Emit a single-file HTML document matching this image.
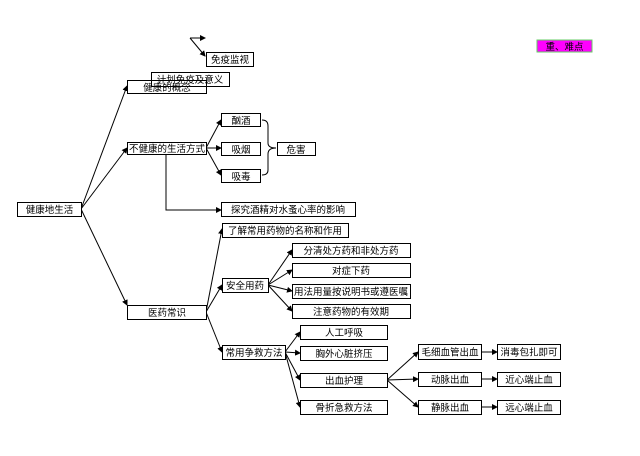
<!DOCTYPE html>
<html><head><meta charset="utf-8"><style>
html,body{margin:0;padding:0;background:#fff;width:640px;height:456px;overflow:hidden}
text{font-family:"Liberation Sans","Noto Sans CJK SC",sans-serif;font-size:9.5px;fill:#000}
rect{fill:#fff;stroke:#000;stroke-width:1}
line,path,polyline{stroke:#000;stroke-width:1;fill:none}
</style></head><body>
<svg width="640" height="456" xmlns="http://www.w3.org/2000/svg">
<defs><marker id="a" markerWidth="6" markerHeight="6" refX="5" refY="3" orient="auto" markerUnits="userSpaceOnUse"><path d="M0,0 L6,3 L0,6 z" style="fill:#000;stroke:none"/></marker></defs>
<g marker-end="url(#a)">
<line x1="81" y1="209" x2="127" y2="86"/>
<line x1="81" y1="209" x2="127" y2="148"/>
<line x1="81" y1="209" x2="127" y2="305"/>
<polyline points="190,38 205,38"/>
<line x1="190" y1="38" x2="205" y2="56"/>
<line x1="206" y1="148" x2="221" y2="120"/>
<line x1="206" y1="148" x2="221" y2="148"/>
<line x1="206" y1="148" x2="221" y2="175"/>
<polyline points="166,154 166,210 221,210"/>
<line x1="206" y1="312" x2="222" y2="229"/>
<line x1="206" y1="312" x2="222" y2="285"/>
<line x1="206" y1="312" x2="222" y2="352"/>
<line x1="268" y1="285" x2="292" y2="250"/>
<line x1="268" y1="285" x2="292" y2="270"/>
<line x1="268" y1="285" x2="292" y2="291"/>
<line x1="268" y1="285" x2="292" y2="311"/>
<line x1="285" y1="352" x2="300" y2="332"/>
<line x1="285" y1="352" x2="300" y2="353"/>
<line x1="285" y1="352" x2="300" y2="380"/>
<line x1="285" y1="352" x2="300" y2="407"/>
<line x1="387" y1="380" x2="418" y2="352"/>
<line x1="387" y1="380" x2="418" y2="379"/>
<line x1="387" y1="380" x2="418" y2="407"/>
<line x1="481" y1="352" x2="497" y2="352"/>
<line x1="481" y1="379" x2="497" y2="379"/>
<line x1="481" y1="407" x2="497" y2="407"/>
</g>
<path d="M262,120 Q268,120 268,126 L268,143 Q268,148 276,148 Q268,148 268,154 L268,170 Q268,175 262,175"/>
<rect x="537" y="40" width="55" height="12" style="fill:#f0f;stroke:#6c6"/>
<text x="564.5" y="50" text-anchor="middle">重、难点</text>
<g>
<rect x="17.5" y="202.5" width="64" height="14"/><text x="49.5" y="213" text-anchor="middle">健康地生活</text>
<rect x="151.5" y="72.5" width="78" height="14" style="fill:none"/><text x="190" y="83" text-anchor="middle">计划免疫及意义</text>
<rect x="127.5" y="80.5" width="79" height="13" style="fill:none"/><text x="167" y="91" text-anchor="middle">健康的概念</text>
<rect x="206.5" y="52.5" width="47" height="14"/><text x="230" y="63" text-anchor="middle">免疫监视</text>
<rect x="127.5" y="142.5" width="79" height="12"/><text x="167" y="152" text-anchor="middle">不健康的生活方式</text>
<rect x="221.5" y="113.5" width="39" height="13"/><text x="241" y="124" text-anchor="middle">酗酒</text>
<rect x="221.5" y="142.5" width="39" height="13"/><text x="241" y="153" text-anchor="middle">吸烟</text>
<rect x="221.5" y="169.5" width="39" height="13"/><text x="241" y="180" text-anchor="middle">吸毒</text>
<rect x="277.5" y="142.5" width="38" height="13"/><text x="296" y="153" text-anchor="middle">危害</text>
<rect x="221.5" y="202.5" width="134" height="14"/><text x="288" y="213" text-anchor="middle">探究酒精对水蚤心率的影响</text>
<rect x="222.5" y="223.5" width="126" height="14"/><text x="285" y="234" text-anchor="middle">了解常用药物的名称和作用</text>
<rect x="127.5" y="305.5" width="79" height="14"/><text x="167" y="316" text-anchor="middle">医药常识</text>
<rect x="222.5" y="278.5" width="46" height="14"/><text x="245" y="289" text-anchor="middle">安全用药</text>
<rect x="292.5" y="243.5" width="118" height="14"/><text x="351" y="254" text-anchor="middle">分清处方药和非处方药</text>
<rect x="292.5" y="263.5" width="118" height="14"/><text x="351" y="274" text-anchor="middle">对症下药</text>
<rect x="292.5" y="284.5" width="118" height="14"/><text x="351" y="295" text-anchor="middle">用法用量按说明书或遵医嘱</text>
<rect x="292.5" y="304.5" width="118" height="14"/><text x="351" y="315" text-anchor="middle">注意药物的有效期</text>
<rect x="222.5" y="345.5" width="63" height="14"/><text x="254" y="356" text-anchor="middle">常用争救方法</text>
<rect x="300.5" y="325.5" width="87" height="14"/><text x="344" y="336" text-anchor="middle">人工呼吸</text>
<rect x="300.5" y="346.5" width="87" height="14"/><text x="344" y="357" text-anchor="middle">胸外心脏挤压</text>
<rect x="300.5" y="373.5" width="87" height="14"/><text x="344" y="384" text-anchor="middle">出血护理</text>
<rect x="300.5" y="400.5" width="87" height="14"/><text x="344" y="411" text-anchor="middle">骨折急救方法</text>
<rect x="418.5" y="344.5" width="63" height="15"/><text x="450" y="355.5" text-anchor="middle">毛细血管出血</text>
<rect x="418.5" y="372.5" width="63" height="14"/><text x="450" y="383" text-anchor="middle">动脉出血</text>
<rect x="418.5" y="400.5" width="63" height="14"/><text x="450" y="411" text-anchor="middle">静脉出血</text>
<rect x="497.5" y="344.5" width="63" height="15"/><text x="529" y="355.5" text-anchor="middle">消毒包扎即可</text>
<rect x="497.5" y="372.5" width="63" height="14"/><text x="529" y="383" text-anchor="middle">近心端止血</text>
<rect x="497.5" y="400.5" width="63" height="14"/><text x="529" y="411" text-anchor="middle">远心端止血</text>
</g>
</svg>
</body></html>
